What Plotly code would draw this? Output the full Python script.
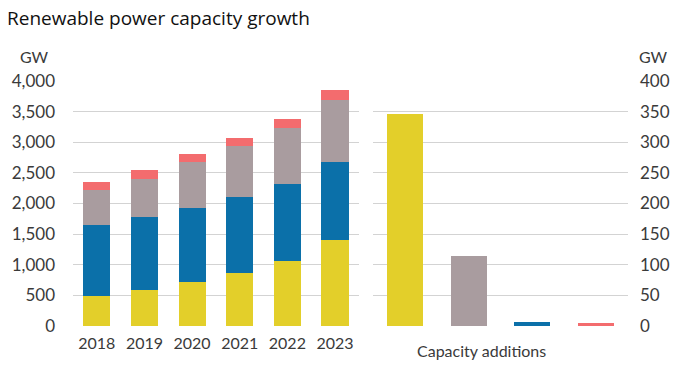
import plotly.graph_objects as go

years = ["2018", "2019", "2020", "2021", "2022", "2023"]
solar = [490, 588, 723, 869, 1069, 1409]
hydro = [1162, 1193, 1204, 1231, 1247, 1274]
wind = [567, 621, 750, 836, 912, 1004]
other = [130, 140, 135, 135, 157, 163]

add_cats = ["Solar PV", "Wind", "Hydropower", "Other"]
add_vals = [346, 115, 7, 5]

left_ticks = [0, 500, 1000, 1500, 2000, 2500, 3000, 3500, 4000]
right_ticks = [0, 50, 100, 150, 200, 250, 300, 350, 400]

C_SOLAR = "#e3cf2a"
C_HYDRO = "#0b70a9"
C_WIND = "#a99c9f"
C_OTHER = "#f36c6e"

fig = go.Figure()
for name, vals, col in [("Solar PV", solar, C_SOLAR), ("Hydropower", hydro, C_HYDRO),
                        ("Wind", wind, C_WIND), ("Other", other, C_OTHER)]:
    fig.add_trace(go.Bar(x=years, y=vals, name=name, marker=dict(color=col, line=dict(width=0)),
                         xaxis="x", yaxis="y", showlegend=False))

fig.add_trace(go.Bar(x=add_cats, y=add_vals, marker=dict(color=[C_SOLAR, C_WIND, C_HYDRO, C_OTHER], line=dict(width=0)),
                     xaxis="x2", yaxis="y2", showlegend=False, width=0.565))

tick_font = dict(family="Lato, 'Open Sans', sans-serif", size=16, color="#3a3a3a")
ytick_font = dict(family="Lato, 'Open Sans', sans-serif", size=17, color="#3a3a3a")
grid = "#d3d3d3"

W, H = 690, 373
l, r, t, b = 73, 62, 81, 47
pw, ph = W - l - r, H - t - b

def px(xp):
    return (xp - l) / pw

def py(yp):
    return (H - yp - b) / ph

fig.update_layout(
    width=W, height=H,
    margin=dict(l=l, r=r, t=t, b=b),
    paper_bgcolor="white", plot_bgcolor="white",
    barmode="stack", bargap=0.43,
    xaxis=dict(domain=[0, 0.515], anchor="y", showgrid=False, showline=False, ticks="",
               tickfont=tick_font, ticklabelstandoff=6),
    yaxis=dict(range=[0, 4000], tickvals=left_ticks, tickformat=",", showgrid=True, gridcolor=grid,
               gridwidth=1, zeroline=False, showline=False, ticks="", tickfont=ytick_font,
               ticklabelstandoff=17, anchor="x"),
    xaxis2=dict(domain=[0.5405, 1], anchor="y2", showgrid=False, showline=False, ticks="",
                showticklabels=False),
    yaxis2=dict(range=[0, 400], tickvals=right_ticks, side="right", anchor="x2", showgrid=True,
                gridcolor=grid, gridwidth=1, zeroline=False, showline=False, ticks="",
                tickfont=ytick_font, ticklabelstandoff=11),
    annotations=[
        dict(text="Renewable power capacity growth", x=px(5), xref="paper", y=py(18), yref="paper",
             showarrow=False, xanchor="left", yanchor="middle",
             font=dict(family="'Open Sans', Carlito, sans-serif", size=19, color="#111111")),
        dict(text="GW", x=px(34), xref="paper", y=py(57), yref="paper", showarrow=False,
             xanchor="center", yanchor="middle", font=tick_font),
        dict(text="Capacity additions", x=px(415), xref="paper", y=py(350), yref="paper",
             showarrow=False, xanchor="left", yanchor="middle", font=tick_font),
        dict(text="GW", x=px(653), xref="paper", y=py(57), yref="paper", showarrow=False,
             xanchor="center", yanchor="middle", font=tick_font),
    ],
)

fig.write_html("out.html", config={"displayModeBar": False},
               post_script="document.body.style.margin='0';")
